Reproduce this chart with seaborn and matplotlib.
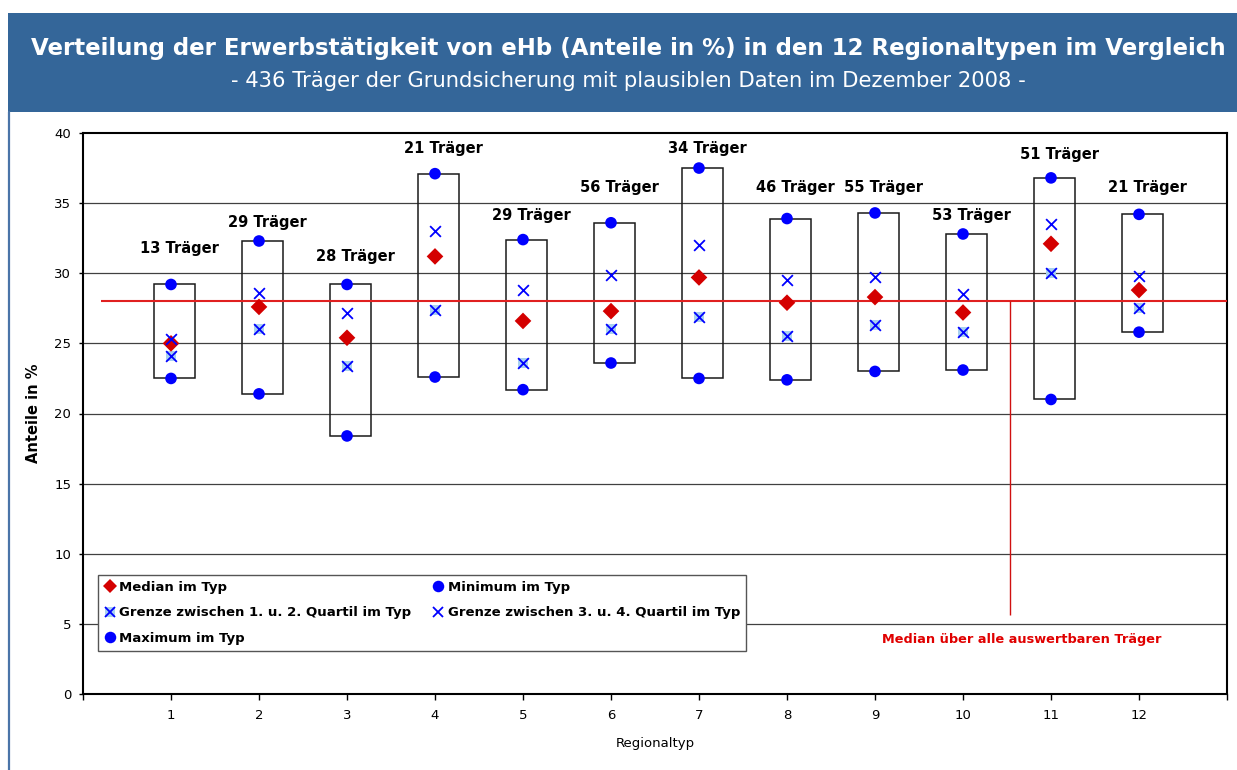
import matplotlib
matplotlib.use("Agg")
import matplotlib.pyplot as plt
from matplotlib.patches import Rectangle
from matplotlib.lines import Line2D
from matplotlib.legend_handler import HandlerTuple
import seaborn as sns
import numpy as np

# ---------------- data ----------------
regionaltyp = [1, 2, 3, 4, 5, 6, 7, 8, 9, 10, 11, 12]
n_traeger = [13, 29, 28, 21, 29, 56, 34, 46, 55, 53, 51, 21]
maximum = [29.2, 32.3, 29.2, 37.1, 32.4, 33.6, 37.5, 33.9, 34.3, 32.8, 36.8, 34.2]
minimum = [22.5, 21.4, 18.4, 22.6, 21.7, 23.6, 22.5, 22.4, 23.0, 23.1, 21.0, 25.8]
median = [25.0, 27.6, 25.4, 31.2, 26.6, 27.3, 29.7, 27.9, 28.3, 27.2, 32.1, 28.8]
quartil_1_2 = [24.1, 26.0, 23.4, 27.4, 23.6, 26.0, 26.9, 25.5, 26.3, 25.8, 30.0, 27.5]
quartil_3_4 = [25.3, 28.6, 27.2, 33.0, 28.8, 29.9, 32.0, 29.5, 29.7, 28.5, 33.5, 29.8]
overall_median = 28.0
yticks = [0, 5, 10, 15, 20, 25, 30, 35, 40]

# label layout (positions of the "N Träger" annotations)
label_y = [31.8, 33.6, 31.2, 38.9, 34.1, 36.1, 38.9, 36.1, 36.1, 34.1, 38.5, 36.1]

title = "Verteilung der Erwerbstätigkeit von eHb (Anteile in %) in den 12 Regionaltypen im Vergleich"
subtitle = "- 436 Träger der Grundsicherung mit plausiblen Daten im Dezember 2008 -"

# ---------------- style ----------------
sns.set_style("ticks")
plt.rcParams["font.family"] = ["DejaVu Sans"]
plt.rcParams["text.color"] = "black"
plt.rcParams["axes.labelcolor"] = "black"

W, H = 1237, 770
fig = plt.figure(figsize=(W / 100, H / 100), dpi=100)
fig.patch.set_facecolor("white")

# header banner
fig.add_artist(Rectangle((8 / W, 1 - 112 / H), 1 - 8 / W, 99 / H,
                         transform=fig.transFigure, facecolor="#346699",
                         edgecolor="none", zorder=0))
fig.add_artist(Line2D([8.5 / W, 8.5 / W], [0, 1 - 112 / H], transform=fig.transFigure,
                      color="#4a74a8", lw=1.6))
fig.text(628 / W, 1 - 48 / H, title, color="white", fontsize=16.45, fontweight="bold",
         ha="center", va="center")
fig.text(628 / W, 1 - 81 / H, subtitle, color="white", fontsize=15.2,
         ha="center", va="center")

ax = fig.add_axes([83 / W, 1 - 694 / H, (1227 - 83) / W, (694 - 133) / H])
ax.set_facecolor("white")

x = np.array(regionaltyp, dtype=float)
mx = np.array(maximum)
mn = np.array(minimum)

# boxes from minimum to maximum
ax.bar(x + 0.04, mx - mn, bottom=mn, width=0.46, fill=False, edgecolor="#1a1a1a",
       linewidth=1.1, zorder=2)

# overall median
ax.hlines(overall_median, 0.2, 13, color="#E02020", lw=1.5, zorder=3)
ax.vlines(10.53, 5.6, overall_median, color="#D01010", lw=1.0, zorder=3)
ax.text(10.67, 3.9, "Median über alle auswertbaren Träger", color="#E00000",
        fontsize=9.3, fontweight="bold", ha="center", va="center")

blue = "#0000FF"
lightblue = "#A8D0F0"
red = "#D40000"

sns.scatterplot(x=regionaltyp, y=maximum, marker="o", s=70, color=blue,
                edgecolor="none", ax=ax, zorder=5)
sns.scatterplot(x=regionaltyp, y=minimum, marker="o", s=70, color=blue,
                edgecolor="none", ax=ax, zorder=5)
sns.scatterplot(x=regionaltyp, y=quartil_1_2, marker="s", s=52, color=lightblue,
                edgecolor="none", ax=ax, zorder=5)
sns.scatterplot(x=regionaltyp, y=quartil_1_2, marker="x", s=60, color=blue,
                linewidth=1.3, ax=ax, zorder=6)
sns.scatterplot(x=regionaltyp, y=median, marker="D", s=72, color=red,
                edgecolor="none", ax=ax, zorder=6)
sns.scatterplot(x=regionaltyp, y=quartil_3_4, marker="x", s=60, color=blue,
                linewidth=1.3, ax=ax, zorder=7)

for xi, n, ly in zip(regionaltyp, n_traeger, label_y):
    ax.text(xi + 0.1, ly, f"{n} Träger", ha="center", va="center",
            fontsize=10.5, fontweight="bold", color="black", zorder=8)

# axes
ax.set_xlim(0, 13)
ax.set_ylim(0, 40)
ax.set_yticks(yticks)
ax.set_xticks(range(0, 14))
ax.set_xticklabels([""] + [str(r) for r in regionaltyp] + [""])
ax.tick_params(axis="x", direction="out", length=4.3, width=1, pad=6.5,
               labelsize=9.5, colors="black")
ax.tick_params(axis="y", direction="out", length=3, width=1, pad=5.5,
               labelsize=9.5, colors="black")
for sp in ax.spines.values():
    sp.set_visible(True)
    sp.set_color("black")
    sp.set_linewidth(1.5)
for yv in yticks[1:-1]:
    ax.axhline(yv, color="#404040", lw=0.9, zorder=1)

ax.set_ylabel("Anteile in %", fontsize=10.5, fontweight="bold")
ax.yaxis.set_label_coords(-0.037, 0.5)
ax.set_xlabel("Regionaltyp", fontsize=9.5)
ax.xaxis.set_label_coords(0.5, -0.076)

# legend
h_med = Line2D([], [], marker="D", color=red, ls="none", markersize=7.5, markeredgewidth=0)
h_min = Line2D([], [], marker="o", color=blue, ls="none", markersize=8.3, markeredgewidth=0)
h_q1a = Line2D([], [], marker="s", color=lightblue, ls="none", markersize=7.2, markeredgewidth=0)
h_q1b = Line2D([], [], marker="x", color=blue, ls="none", markersize=7.7, markeredgewidth=1.3)
h_q3 = Line2D([], [], marker="x", color=blue, ls="none", markersize=7.7, markeredgewidth=1.3)
h_max = Line2D([], [], marker="o", color=blue, ls="none", markersize=8.3, markeredgewidth=0)
handles = [h_med, (h_q1a, h_q1b), h_max, h_min, h_q3]
labels = ["Median im Typ", "Grenze zwischen 1. u. 2. Quartil im Typ", "Maximum im Typ",
          "Minimum im Typ", "Grenze zwischen 3. u. 4. Quartil im Typ"]
leg = ax.legend(handles, labels, ncol=2, loc="upper left",
                bbox_to_anchor=(0.0131, 0.2121), borderaxespad=0,
                handler_map={tuple: HandlerTuple(ndivide=1, pad=0)},
                prop={"size": 9.5, "weight": "bold"}, frameon=True, fancybox=False,
                framealpha=1, edgecolor="#555555", handlelength=0.9, handletextpad=0.25,
                labelspacing=0.95, columnspacing=1.6, borderpad=0.45,
                labelcolor="black")
leg.get_frame().set_linewidth(1.0)
leg.set_zorder(10)

fig.savefig("out.png", dpi=100, facecolor="white")
